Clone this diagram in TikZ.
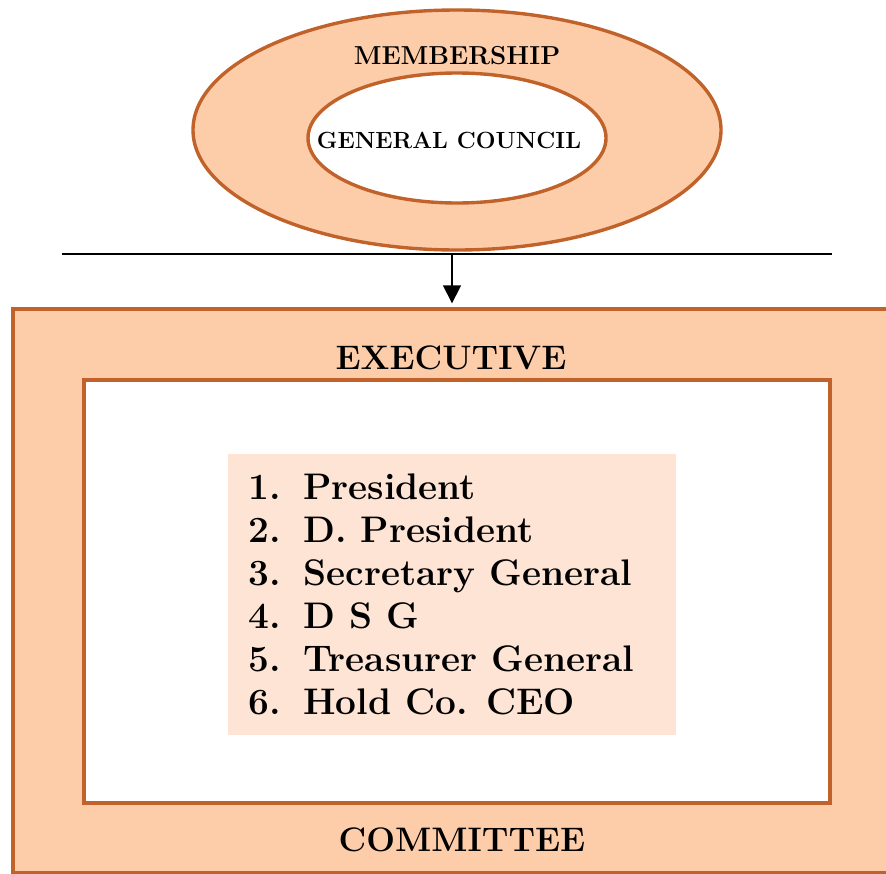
\documentclass[tikz,border=0pt]{standalone}
\usepackage{tikz}
\usetikzlibrary{shapes.geometric,arrows.meta,positioning}
\definecolor{peach}{RGB}{253,205,170}
\definecolor{palePeachFill}{RGB}{253,228,213}
\definecolor{rust}{RGB}{192,98,42}
\tikzstyle{ring}=[ellipse,draw=rust,line width=1.7pt,inner sep=0pt]
\tikzstyle{frame}=[rectangle,draw=rust,line width=1.7pt,inner sep=0pt]
\tikzstyle{capt}=[font=\fontsize{17}{20}\selectfont\bfseries,inner sep=0pt]
\tikzstyle{ovaltxt}=[font=\fontsize{12}{14}\selectfont\bfseries,inner sep=0pt]
\tikzstyle{entry}=[font=\fontsize{18.5}{22}\selectfont\bfseries,anchor=base west,inner sep=0pt]
\tikzstyle{arr}=[-{Triangle[width=9pt,length=9pt]},line width=0.8pt]

\begin{document}
\begin{tikzpicture}[x=0.5pt,y=-0.5pt]
\path[use as bounding box,clip] (0,0) rectangle (886,873);
% membership rings
\node (member) [ring,fill=peach,minimum width=264pt,minimum height=120pt] at (457,130) {};
\node (council) [ring,fill=white,minimum width=149pt,minimum height=65pt] at (457,138) {};
\node (membertxt) [ovaltxt,font=\fontsize{13}{15}\selectfont\bfseries] at (457,56) {MEMBERSHIP};
\node (counciltxt) [ovaltxt,font=\fontsize{11.7}{14}\selectfont\bfseries] at (449,140) {GENERAL COUNCIL};
% executive committee
\node (execbox) [frame,fill=peach,minimum width=443.5pt,minimum height=282pt] at (456.5,591) {};
\node (inbox) [frame,fill=white,minimum width=373pt,minimum height=211.5pt] at (457,591.5) {};
\node (listbox) [rectangle,fill=palePeachFill,minimum width=224pt,minimum height=140.5pt,inner sep=0pt] at (452,594.5) {};
\node (exectxt) [capt] at (451,358) {EXECUTIVE};
\node (committxt) [capt] at (462,840) {COMMITTEE};
\foreach \n/\post in {1/President,2/D. President,3/Secretary General,4/D S G,5/Treasurer General,6/Hold Co. CEO}{
  \node (num\n) [entry] at (248,{499+43*(\n-1)}) {\n.};
  \node (post\n) [entry] at (303,{499+43*(\n-1)}) {\post};
}
% link
\coordinate (rulel) at (62,254);
\coordinate (ruler) at (832,254);
\coordinate (split) at (452,254);
\draw [line width=0.8pt] (rulel) -- (ruler);
\draw [arr,shorten >=2pt] (split) -- (execbox.north -| split);
\end{tikzpicture}
\end{document}
